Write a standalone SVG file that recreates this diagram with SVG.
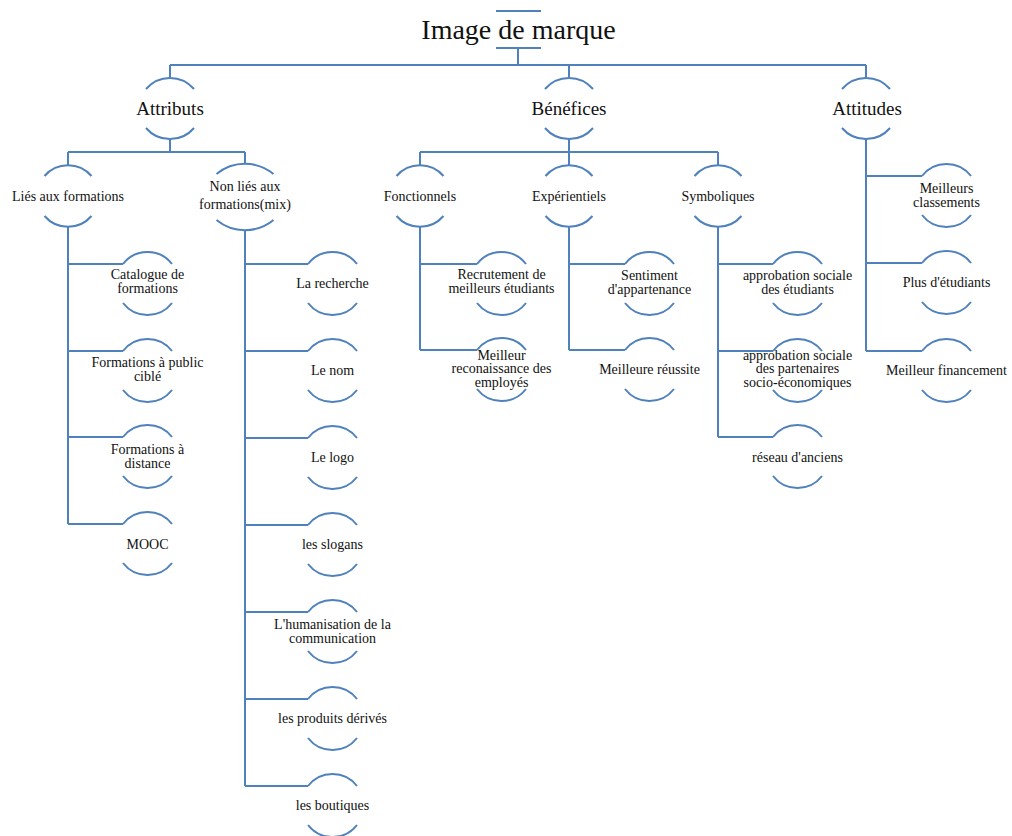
<svg xmlns="http://www.w3.org/2000/svg" width="1012" height="836" viewBox="0 0 1012 836">
<style>
.ln{fill:none;stroke:#4F81BD;stroke-width:2}
.t{font-family:"Liberation Serif",serif;font-size:14px;fill:#111;text-anchor:middle}
.t1{font-family:"Liberation Serif",serif;font-size:19px;fill:#111;text-anchor:middle}
.t0{font-family:"Liberation Serif",serif;font-size:28px;fill:#111;text-anchor:middle}
</style>
<rect width="1012" height="836" fill="#fff"/>
<g id="connectors" class="ln">
<path d="M518,48 V65 M170,65 H866 M170,65 V77 M569,65 V77 M866,65 V77"/>
<path d="M170,139 V152 M68,152 H245 M68,152 V165 M245,152 V164"/>
<path d="M569,139 V152 M420,152 H718 M420,152 V165 M569,152 V165 M718,152 V165"/>
<path d="M866,139 V351 M866,176 H922 M866,263 H922 M866,351 H922"/>
<path d="M68,227 V524 M68,264 H123 M68,351 H123 M68,437 H123 M68,524 H123"/>
<path d="M245,230 V786 M245,264 H308 M245,351 H308 M245,438 H308 M245,525 H308 M245,612 H308 M245,699 H308 M245,786 H308"/>
<path d="M420,227 V350 M420,264 H477 M420,350 H477"/>
<path d="M569,227 V350 M569,264 H625 M569,350 H625"/>
<path d="M718,227 V437 M718,264 H773 M718,351 H773 M718,437 H773"/>
</g>
<g id="root">
<path class="ln" d="M496,11 H541 M496,48 H541"/>
<text class="t0" x="518.5" y="39">Image de marque</text>
</g>
<g id="attributs">
<path class="ln" d="M146,89 A31.5,31.5 0 0 1 194,89 M146,128 A31.5,31.5 0 0 0 194,128"/>
<text class="t1" x="170" y="115">Attributs</text>
</g>
<g id="benefices">
<path class="ln" d="M545,89 A31.5,31.5 0 0 1 593,89 M545,128 A31.5,31.5 0 0 0 593,128"/>
<text class="t1" x="569" y="115">Bénéfices</text>
</g>
<g id="attitudes">
<path class="ln" d="M842,89 A31.5,31.5 0 0 1 890,89 M842,128 A31.5,31.5 0 0 0 890,128"/>
<text class="t1" x="867" y="115">Attitudes</text>
</g>
<g id="lies">
<path class="ln" d="M44.5,176 A31,31 0 0 1 91.5,176 M44.5,216 A31,31 0 0 0 91.5,216"/>
<text class="t" x="68" y="201">Liés aux formations</text>
</g>
<g id="nonlies">
<path class="ln" d="M216.5,174 A45,45 0 0 1 273.5,174 M216.5,220 A45,45 0 0 0 273.5,220"/>
<text class="t" x="245" y="191">Non liés aux</text>
<text class="t" x="245" y="209">formations(mix)</text>
</g>
<g id="fonctionnels">
<path class="ln" d="M396.5,176 A31,31 0 0 1 443.5,176 M396.5,216 A31,31 0 0 0 443.5,216"/>
<text class="t" x="420" y="201">Fonctionnels</text>
</g>
<g id="experientiels">
<path class="ln" d="M545.5,176 A31,31 0 0 1 592.5,176 M545.5,216 A31,31 0 0 0 592.5,216"/>
<text class="t" x="569" y="201">Expérientiels</text>
</g>
<g id="symboliques">
<path class="ln" d="M694.5,176 A31,31 0 0 1 741.5,176 M694.5,216 A31,31 0 0 0 741.5,216"/>
<text class="t" x="718" y="201">Symboliques</text>
</g>
<g id="catalogue">
<path class="ln" d="M123,264 A31,31 0 0 1 172,264 M123,303 A31,31 0 0 0 172,303"/>
<text class="t" x="147.5" y="279">Catalogue de</text>
<text class="t" x="147.5" y="293">formations</text>
</g>
<g id="public">
<path class="ln" d="M123,351 A31,31 0 0 1 172,351 M123,390 A31,31 0 0 0 172,390"/>
<text class="t" x="147.5" y="367">Formations à public</text>
<text class="t" x="147.5" y="381">ciblé</text>
</g>
<g id="distance">
<path class="ln" d="M123,437 A31,31 0 0 1 172,437 M123,476 A31,31 0 0 0 172,476"/>
<text class="t" x="147.5" y="454">Formations à</text>
<text class="t" x="147.5" y="468">distance</text>
</g>
<g id="mooc">
<path class="ln" d="M123,524 A31,31 0 0 1 172,524 M123,563 A31,31 0 0 0 172,563"/>
<text class="t" x="147.5" y="549">MOOC</text>
</g>
<g id="recherche">
<path class="ln" d="M308,264 A31,31 0 0 1 357,264 M308,303 A31,31 0 0 0 357,303"/>
<text class="t" x="332.5" y="288">La recherche</text>
</g>
<g id="nom">
<path class="ln" d="M308,351 A31,31 0 0 1 357,351 M308,390 A31,31 0 0 0 357,390"/>
<text class="t" x="332.5" y="375">Le nom</text>
</g>
<g id="logo">
<path class="ln" d="M308,438 A31,31 0 0 1 357,438 M308,477 A31,31 0 0 0 357,477"/>
<text class="t" x="332.5" y="462">Le logo</text>
</g>
<g id="slogans">
<path class="ln" d="M308,525 A31,31 0 0 1 357,525 M308,564 A31,31 0 0 0 357,564"/>
<text class="t" x="332.5" y="549">les slogans</text>
</g>
<g id="humanisation">
<path class="ln" d="M308,612 A31,31 0 0 1 357,612 M308,651 A31,31 0 0 0 357,651"/>
<text class="t" x="332.5" y="629">L'humanisation de la</text>
<text class="t" x="332.5" y="643">communication</text>
</g>
<g id="produits">
<path class="ln" d="M308,699 A31,31 0 0 1 357,699 M308,738 A31,31 0 0 0 357,738"/>
<text class="t" x="332.5" y="723">les produits dérivés</text>
</g>
<g id="boutiques">
<path class="ln" d="M308,786 A31,31 0 0 1 357,786 M308,825 A31,31 0 0 0 357,825"/>
<text class="t" x="332.5" y="810">les boutiques</text>
</g>
<g id="recrutement">
<path class="ln" d="M477,264 A31,31 0 0 1 526,264 M477,303 A31,31 0 0 0 526,303"/>
<text class="t" x="501.5" y="279">Recrutement de</text>
<text class="t" x="501.5" y="293">meilleurs étudiants</text>
</g>
<g id="reconaissance">
<path class="ln" d="M477,350 A31,31 0 0 1 526,350 M477,389 A31,31 0 0 0 526,389"/>
<text class="t" x="501.5" y="360">Meilleur</text>
<text class="t" x="501.5" y="373">reconaissance des</text>
<text class="t" x="501.5" y="387">employés</text>
</g>
<g id="sentiment">
<path class="ln" d="M625,264 A31,31 0 0 1 674,264 M625,303 A31,31 0 0 0 674,303"/>
<text class="t" x="649.5" y="280">Sentiment</text>
<text class="t" x="649.5" y="294">d'appartenance</text>
</g>
<g id="reussite">
<path class="ln" d="M625,350 A31,31 0 0 1 674,350 M625,389 A31,31 0 0 0 674,389"/>
<text class="t" x="649.5" y="374">Meilleure réussite</text>
</g>
<g id="approbation-etudiants">
<path class="ln" d="M773,264 A31,31 0 0 1 822,264 M773,303 A31,31 0 0 0 822,303"/>
<text class="t" x="797.5" y="280">approbation sociale</text>
<text class="t" x="797.5" y="294">des étudiants</text>
</g>
<g id="approbation-partenaires">
<path class="ln" d="M773,351 A31,31 0 0 1 822,351 M773,390 A31,31 0 0 0 822,390"/>
<text class="t" x="797.5" y="360">approbation sociale</text>
<text class="t" x="797.5" y="373">des partenaires</text>
<text class="t" x="797.5" y="387">socio-économiques</text>
</g>
<g id="anciens">
<path class="ln" d="M773,437 A31,31 0 0 1 822,437 M773,476 A31,31 0 0 0 822,476"/>
<text class="t" x="797.5" y="462">réseau d'anciens</text>
</g>
<g id="classements">
<path class="ln" d="M922,176 A31,31 0 0 1 971,176 M922,215 A31,31 0 0 0 971,215"/>
<text class="t" x="946.5" y="193">Meilleurs</text>
<text class="t" x="946.5" y="207">classements</text>
</g>
<g id="plus-etudiants">
<path class="ln" d="M922,263 A31,31 0 0 1 971,263 M922,302 A31,31 0 0 0 971,302"/>
<text class="t" x="946.5" y="287">Plus d'étudiants</text>
</g>
<g id="financement">
<path class="ln" d="M922,351 A31,31 0 0 1 971,351 M922,390 A31,31 0 0 0 971,390"/>
<text class="t" x="946.5" y="375">Meilleur financement</text>
</g>
</svg>
